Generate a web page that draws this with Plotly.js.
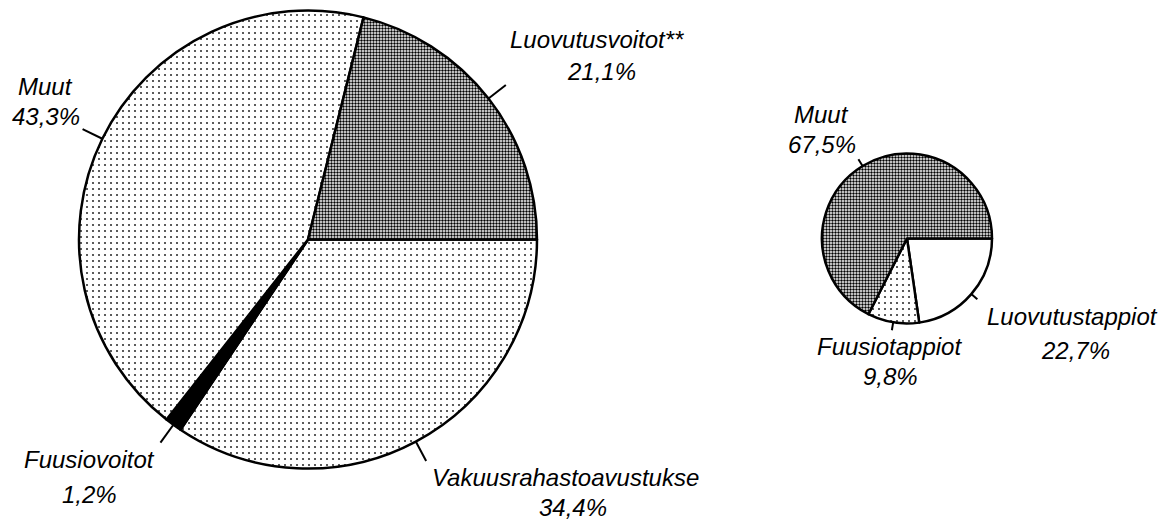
<!DOCTYPE html>
<html>
<head>
<meta charset="utf-8">
<script src="https://cdn.plot.ly/plotly-3.0.1.min.js"></script>
<style>html,body{margin:0;padding:0;background:#fff;}#chart{width:1171px;height:520px;}</style>
</head>
<body>
<div id="chart"></div>
<script>
// ---- data ----
const bigLabels = ['Vakuusrahastoavustukse', 'Fuusiovoitot', 'Muut', 'Luovutusvoitot**'];
const bigValues = [34.4, 1.2, 43.3, 21.1];
const smallLabels = ['Luovutustappiot', 'Fuusiotappiot', 'Muut'];
const smallValues = [22.7, 9.8, 67.5];

// ---- layout geometry (pixels) ----
const W = 1171, H = 520;
const bigPie = {cx: 308, cy: 239.5, r: 229, tick: 22};
const smallPie = {cx: 907, cy: 238.5, r: 85, tick: 8};

// label placements: [x px, y px, xanchor] for name line and percent line
const bigLabelPos = {
  'Luovutusvoitot**': [[508, 40, 'left'], [601, 72, 'center']],
  'Muut': [[45, 87, 'center'], [46, 117, 'center']],
  'Fuusiovoitot': [[89, 459, 'center'], [89, 494, 'center']],
  'Vakuusrahastoavustukse': [[430, 477, 'left'], [573, 507, 'center']]
};
const smallLabelPos = {
  'Muut': [[822, 114, 'center'], [822, 144, 'center']],
  'Luovutustappiot': [[985, 316, 'left'], [1075, 350, 'center']],
  'Fuusiotappiot': [[815, 346, 'left'], [890, 376, 'center']]
};

const DARK = {shape: '.', fg: '#000', bg: '#fff', size: 3, sol: 0.5, col: '#777'};
const LIGHT = {shape: '.', fg: '#333', bg: '#fff', size: 6, sol: 0.1, col: '#eee'};
const BLACK = {shape: '', fg: '#000', bg: '#000', size: 8, sol: 0.3, col: '#000'};
const WHITE = {shape: '', fg: '#fff', bg: '#fff', size: 8, sol: 0.3, col: '#fff'};
const bigFills = [LIGHT, BLACK, LIGHT, DARK];
const smallFills = [WHITE, LIGHT, DARK];

function domainOf(p) {
  return {
    x: [(p.cx - p.r) / W, (p.cx + p.r) / W],
    y: [1 - (p.cy + p.r) / H, 1 - (p.cy - p.r) / H]
  };
}
function pieTrace(labels, values, fills, p) {
  return {
    type: 'pie', labels: labels, values: values, sort: false,
    direction: 'clockwise', rotation: 90,
    textinfo: 'none', hoverinfo: 'none',
    domain: domainOf(p),
    marker: {
      colors: fills.map(f => f.col),
      line: {color: '#000', width: 2.5},
      pattern: {
        shape: fills.map(f => f.shape),
        fgcolor: fills.map(f => f.fg),
        bgcolor: fills.map(f => f.bg),
        size: fills.map(f => f.size),
        solidity: fills.map(f => f.sol),
        fillmode: 'replace'
      }
    }
  };
}
const pct = v => v.toFixed(1).replace('.', ',') + '%';

const shapes = [], annotations = [];
function decorate(labels, values, p, pos) {
  const total = values.reduce((a, b) => a + b, 0);
  let acc = 0;
  labels.forEach((lab, i) => {
    const mid = (90 + (acc + values[i] / 2) / total * 360) * Math.PI / 180; // clockwise from top
    acc += values[i];
    const sx = Math.sin(mid), sy = -Math.cos(mid);
    const x0 = p.cx + p.r * sx, y0 = p.cy + p.r * sy;
    const x1 = p.cx + (p.r + p.tick) * sx, y1 = p.cy + (p.r + p.tick) * sy;
    shapes.push({type: 'line', xref: 'paper', yref: 'paper',
      x0: x0 / W, y0: 1 - y0 / H, x1: x1 / W, y1: 1 - y1 / H,
      line: {color: '#000', width: 2}});
    const lp = pos[lab];
    [lab, pct(values[i])].forEach((t, k) => {
      annotations.push({xref: 'paper', yref: 'paper', x: lp[k][0] / W, y: 1 - lp[k][1] / H,
        xanchor: lp[k][2], yanchor: 'middle', text: t, showarrow: false,
        font: {family: 'Liberation Sans, Arial, sans-serif', size: 24, color: '#000', style: 'italic'}});
    });
  });
}
decorate(bigLabels, bigValues, bigPie, bigLabelPos);
decorate(smallLabels, smallValues, smallPie, smallLabelPos);

Plotly.newPlot('chart', [
  pieTrace(bigLabels, bigValues, bigFills, bigPie),
  pieTrace(smallLabels, smallValues, smallFills, smallPie)
], {
  width: W, height: H, margin: {l: 0, r: 0, t: 0, b: 0},
  paper_bgcolor: '#fff', plot_bgcolor: '#fff', showlegend: false,
  shapes: shapes, annotations: annotations
}, {staticPlot: true});
</script>
</body>
</html>
